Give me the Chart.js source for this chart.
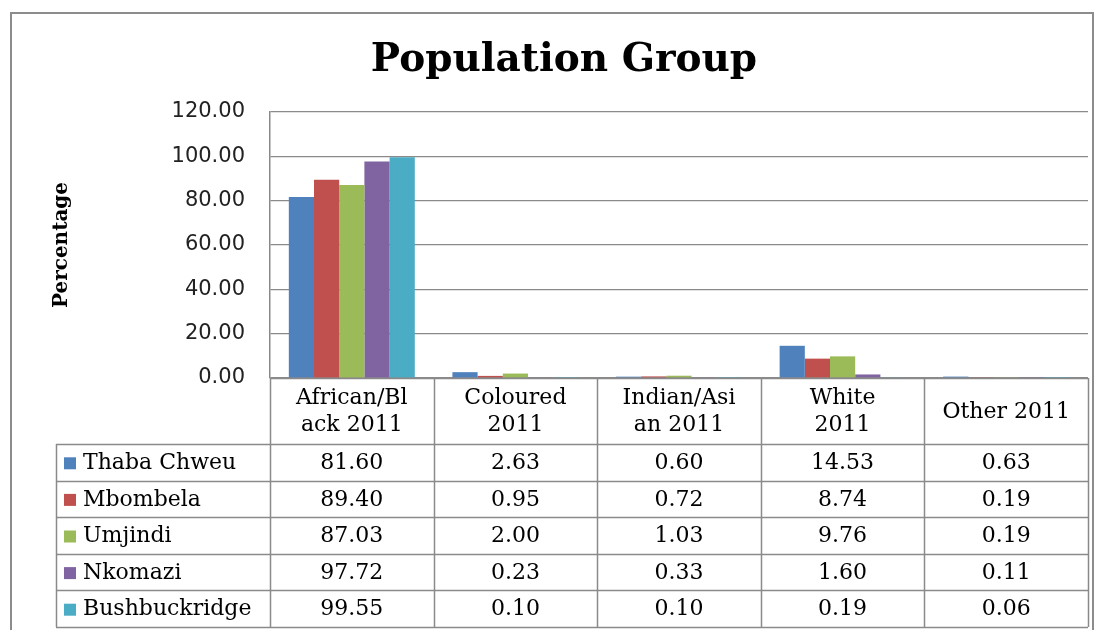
<!DOCTYPE html>
<html>
<head>
<meta charset="utf-8">
<script src="https://cdn.jsdelivr.net/npm/chart.js@4"></script>
<style>
  body { margin: 0; background: #fff; }
  #wrap { width: 1104px; height: 630px; }
</style>
</head>
<body>
<div id="wrap"><canvas id="grafico" width="1104" height="630"></canvas></div>
<script>
const categorias = [
    ['African/Bl', 'ack 2011'],
    ['Coloured', '2011'],
    ['Indian/Asi', 'an 2011'],
    ['White', '2011'],
    ['Other 2011']
];

const thabaChweu = [81.60, 2.63, 0.60, 14.53, 0.63];
const mbombela = [89.40, 0.95, 0.72, 8.74, 0.19];
const umjindi = [87.03, 2.00, 1.03, 9.76, 0.19];
const nkomazi = [97.72, 0.23, 0.33, 1.60, 0.11];
const bushbuckridge = [99.55, 0.10, 0.10, 0.19, 0.06];

const nombres = ['Thaba Chweu', 'Mbombela', 'Umjindi', 'Nkomazi', 'Bushbuckridge'];
const colores = ['#4F81BD', '#C0504D', '#9BBB59', '#8064A2', '#4BACC6'];
const series = [thabaChweu, mbombela, umjindi, nkomazi, bushbuckridge];

const yMax = 120;
const yPaso = 20;

const lineaTabla = '#8a8a8a';
const fuenteTabla = '22px "DejaVu Serif"';

// marco gris alrededor de todo
const marco = {
    id: 'marco',
    beforeDraw(chart) {
        const ctx = chart.ctx;
        ctx.save();
        ctx.fillStyle = '#fff';
        ctx.fillRect(0, 0, chart.width, chart.height);
        ctx.strokeStyle = '#8c8c8c';
        ctx.lineWidth = 2;
        ctx.strokeRect(11, 13, 1082, 640);
        ctx.restore();
    }
};

// tabla de datos bajo el eje x
const tablaDatos = {
    id: 'tablaDatos',
    afterDraw(chart) {
        const ctx = chart.ctx;
        const x = chart.scales.x;
        const area = chart.chartArea;
        const anchoCat = (x.getPixelForValue(1) - x.getPixelForValue(0));
        const bordes = categorias.map((_, i) => x.getPixelForValue(i) - anchoCat / 2);
        bordes.push(x.getPixelForValue(categorias.length - 1) + anchoCat / 2);

        const top = area.bottom;
        const cabecera = 444;
        const altoFila = (627 - cabecera) / nombres.length;
        const izq = 56;
        const fondo = cabecera + altoFila * nombres.length;

        ctx.save();
        ctx.strokeStyle = lineaTabla;
        ctx.lineWidth = 1.5;
        ctx.beginPath();
        ctx.moveTo(bordes[0], top + 0.5);
        ctx.lineTo(bordes[bordes.length - 1], top + 0.5);
        for (let r = 0; r <= nombres.length; r++) {
            const yy = Math.round(cabecera + altoFila * r) + 0.5;
            ctx.moveTo(izq, yy);
            ctx.lineTo(bordes[bordes.length - 1], yy);
        }
        ctx.moveTo(izq + 0.5, cabecera);
        ctx.lineTo(izq + 0.5, fondo);
        bordes.forEach(b => {
            ctx.moveTo(Math.round(b) + 0.5, top);
            ctx.lineTo(Math.round(b) + 0.5, fondo);
        });
        ctx.stroke();

        ctx.fillStyle = '#000';
        ctx.font = fuenteTabla;
        ctx.textAlign = 'center';
        ctx.textBaseline = 'middle';

        const medioCab = (top + cabecera) / 2 + 1;
        categorias.forEach((lineas, i) => {
            const cx = x.getPixelForValue(i);
            const n = lineas.length;
            lineas.forEach((t, k) => {
                ctx.fillText(t, cx, medioCab + (k - (n - 1) / 2) * 27);
            });
        });

        series.forEach((vals, r) => {
            const cy = cabecera + altoFila * (r + 0.5) + 1;
            ctx.textAlign = 'left';
            ctx.fillStyle = colores[r];
            ctx.fillRect(64, cy - 6, 12, 12);
            ctx.fillStyle = '#000';
            ctx.fillText(nombres[r], 83, cy);
            ctx.textAlign = 'center';
            vals.forEach((v, i) => {
                ctx.fillText(v.toFixed(2), x.getPixelForValue(i), cy);
            });
        });
        ctx.restore();
    }
};

const ctx = document.getElementById('grafico').getContext('2d');

new Chart(ctx, {
    type: 'bar',
    data: {
        labels: categorias,
        datasets: series.map((vals, i) => ({
            label: nombres[i],
            data: vals,
            backgroundColor: colores[i],
            borderWidth: 0,
            categoryPercentage: 0.77,
            barPercentage: 1
        }))
    },
    options: {
        responsive: false,
        animation: false,
        layout: {
            padding: { left: 40, right: 16, top: 0, bottom: 252 }
        },
        scales: {
            x: {
                ticks: { display: false },
                grid: { display: false, drawTicks: false },
                border: { display: false }
            },
            y: {
                min: 0,
                max: yMax,
                ticks: {
                    stepSize: yPaso,
                    padding: 25,
                    color: '#222',
                    font: { family: 'DejaVu Sans', size: 21 },
                    callback: v => v.toFixed(2)
                },
                grid: { color: '#8a8a8a', lineWidth: 1.2, drawTicks: false },
                border: { display: true, color: '#8a8a8a', width: 1.5 },
                title: {
                    display: true,
                    text: 'Percentage',
                    color: '#000',
                    font: { family: 'DejaVu Serif', size: 20, weight: 'bold' },
                    padding: { top: 10, bottom: 0 }
                },
                afterFit(scale) {
                    scale.width = 230;
                }
            }
        },
        plugins: {
            legend: { display: false },
            tooltip: { enabled: false },
            title: {
                display: true,
                text: 'Population Group',
                color: '#000',
                font: { family: 'DejaVu Serif', size: 39, weight: 'bold' },
                padding: { top: 37, bottom: 28.2 }
            }
        }
    },
    plugins: [marco, tablaDatos]
});
</script>
</body>
</html>
